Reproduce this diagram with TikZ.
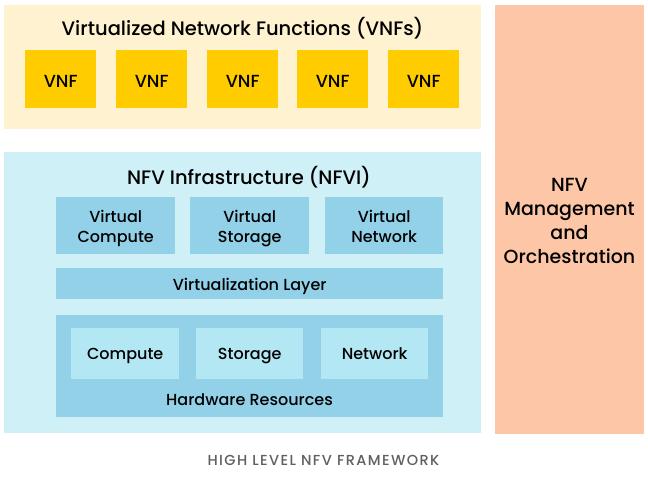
\documentclass[tikz,border=0pt]{standalone}
\usepackage{fontspec}
\setmainfont{Poppins}[UprightFont=* Medium]
\newcommand\vstrutx{\vphantom{Vg}}
\begin{document}
\begin{tikzpicture}[x=1pt,y=-1pt,
  panel/.style={draw=none,inner sep=0pt,anchor=north west},
  vnfbox/.style={fill=vnfgold,draw=none,inner sep=0pt,anchor=north west,minimum width=71pt,minimum height=58pt},
  vnflbl/.style={font=\fontsize{17.5}{20}\selectfont,inner sep=0pt},
  virtbox/.style={fill=boxblue,draw=none,inner sep=0pt,anchor=north west},
  hwbox/.style={fill=innerblue,draw=none,inner sep=0pt,anchor=north west,minimum height=51pt},
  title/.style={font=\fontsize{19.5}{22}\selectfont},
  lbl/.style={font=\fontsize{16}{20}\selectfont,align=center,inner sep=0pt},
]
\definecolor{vnfpanel}{HTML}{FEF2D0}
\definecolor{vnfgold}{HTML}{FFCC00}
\definecolor{nfvipanel}{HTML}{D0F0F7}
\definecolor{boxblue}{HTML}{93D1E9}
\definecolor{innerblue}{HTML}{B3E7F4}
\definecolor{mano}{HTML}{FDC7A7}
\definecolor{captiongray}{HTML}{5F6063}
\useasboundingbox (0,0) rectangle (648,478);
\fill[white] (0,0) rectangle (648,478);
% VNF panel
\node[panel,fill=vnfpanel,minimum width=477pt,minimum height=124pt] (vnfp) at (4,5) {};
\node[title] (vnft) at (242.5,28) {Virtualized Network Functions (VNFs)};
\foreach \i/\x in {1/25,2/116,3/207,4/297,5/388}{
  \node[vnfbox] (v\i) at (\x,50) {};
  \node[vnflbl] (v\i t) at ([yshift=-4.5pt]v\i.center) {\vstrutx VNF};
}
% NFVI panel
\node[panel,fill=nfvipanel,minimum width=477pt,minimum height=281pt] (nfvip) at (4,152) {};
\node[title] (nfvit) at (249,177) {NFV Infrastructure (NFVI)};
\node[virtbox,minimum width=119pt,minimum height=57pt] (vc) at (56,197) {};
\node[lbl] (vct) at ([yshift=-2.5pt]vc.center) {\vstrutx Virtual\\\vstrutx Compute};
\node[virtbox,minimum width=119pt,minimum height=57pt] (vs) at (190,197) {};
\node[lbl] (vst) at ([yshift=-2.5pt]vs.center) {\vstrutx Virtual\\\vstrutx Storage};
\node[virtbox,minimum width=118pt,minimum height=57pt] (vn) at (325,197) {};
\node[lbl] (vnt) at ([yshift=-2.5pt]vn.center) {\vstrutx Virtual\\\vstrutx Network};
\node[virtbox,minimum width=387pt,minimum height=31pt] (vl) at (56,268) {};
\node[lbl] (vlt) at ([yshift=-2.5pt]vl.center) {\vstrutx Virtualization Layer};
\node[panel,fill=boxblue,minimum width=387pt,minimum height=102pt] (hw) at (56,315) {};
\node[hwbox,minimum width=108pt] (hc) at (71,328) {};
\node[lbl] (hct) at ([yshift=-2.5pt]hc.center) {\vstrutx Compute};
\node[hwbox,minimum width=107pt] (hs) at (196,328) {};
\node[lbl] (hst) at ([yshift=-2.5pt]hs.center) {\vstrutx Storage};
\node[hwbox,minimum width=107pt] (hn) at (321,328) {};
\node[lbl] (hnt) at ([yshift=-2.5pt]hn.center) {\vstrutx Network};
\node[lbl] (hwt) at (249.5,402) {\vstrutx Hardware Resources};
% MANO
\node[panel,fill=mano,minimum width=149pt,minimum height=429pt] (manop) at (495,5) {};
\node[font=\fontsize{19}{24}\selectfont,align=center] (manot) at (569.5,221) {NFV\\Management\\and\\Orchestration};
% caption
\node[font=\fontsize{14.5}{16}\selectfont\addfontfeature{LetterSpace=9.5},text=captiongray] (cap) at (323.5,460) {HIGH LEVEL NFV FRAMEWORK};
\end{tikzpicture}
\end{document}
